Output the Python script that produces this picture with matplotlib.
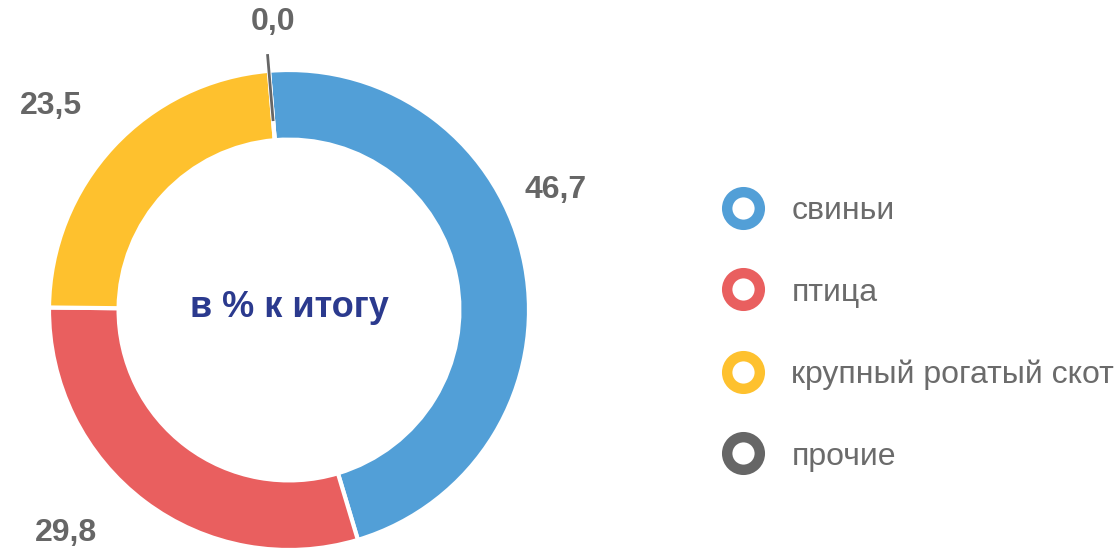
import numpy as np
import matplotlib
matplotlib.use("Agg")
import matplotlib.pyplot as plt
from matplotlib.lines import Line2D

plt.rcParams['font.family'] = ['Liberation Sans', 'DejaVu Sans']

categories = ['свиньи', 'птица', 'крупный рогатый скот', 'прочие']
shares = [46.7, 29.8, 23.5, 0.0]
share_labels = ['46,7', '29,8', '23,5', '0,0']
colors = ['#529FD7', '#E95F5F', '#FEC12E', '#666666']
center_text = 'в % к итогу'

# label positions in pie-radius units
label_pos = [(1.11, 0.50), (-0.93, -0.93), (-0.99, 0.85), (-0.065, 1.20)]

W, H = 1118, 549
fig = plt.figure(figsize=(W / 100, H / 100), dpi=100)
cx, cy, R = 289, 310, 240
ax = fig.add_axes([(cx - R) / W, (H - cy - R) / H, 2 * R / W, 2 * R / H])

wedges, _ = ax.pie(shares, colors=colors, startangle=94.8, counterclock=False,
                   radius=1.0, wedgeprops=dict(width=0.29, edgecolor='white', linewidth=3))
ax.set_xlim(-1, 1)
ax.set_ylim(-1, 1)
ax.set_aspect('equal')
ax.axis('off')

# zero slice shown as a thin radial line
ang = np.deg2rad(94.8)
ax.plot([0.79 * np.cos(ang), 1.07 * np.cos(ang)], [0.79 * np.sin(ang), 1.07 * np.sin(ang)],
        color=colors[3], lw=2, clip_on=False, solid_capstyle='butt')

for (x, y), lab in zip(label_pos, share_labels):
    ax.text(x, y, lab, ha='center', va='center', fontsize=23, fontweight='bold',
            color='#666666', clip_on=False)

ax.text(0, 0.01, center_text, ha='center', va='center', fontsize=26, fontweight='bold',
        color='#2B3A8E')

# legend with ring markers
handles = [Line2D([0], [0], marker='o', linestyle='none', markersize=23.5,
                  markerfacecolor='white', markeredgecolor=c, markeredgewidth=7.5)
           for c in colors]
fig.legend(handles, categories, loc='center left', bbox_to_anchor=(0.625, 0.392),
           frameon=False, fontsize=23, labelcolor='#6B6B6B', labelspacing=1.62,
           handletextpad=0.5, borderaxespad=0)

fig.savefig('out.png', dpi=100)
